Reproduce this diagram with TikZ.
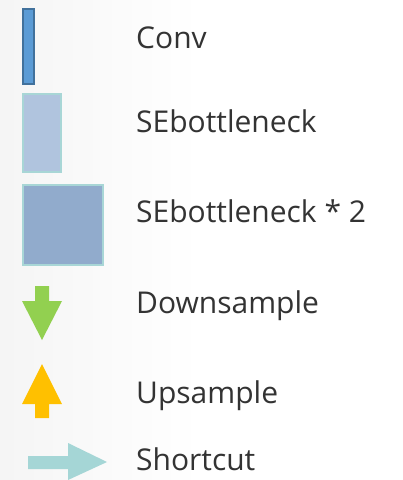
\documentclass[tikz,border=0pt]{standalone}
\usepackage{fontspec}
\setmainfont{Open Sans}
\begin{document}
\begin{tikzpicture}[x=1pt,y=-1pt,
  lbl/.style={anchor=base west,inner sep=0pt,font=\fontsize{30}{35}\selectfont,text=black!80},
  convbox/.style={draw=convborder,line width=2pt,fill=convfill},
  sebox/.style={draw=seborder,line width=2pt,fill=sefill},
  se2box/.style={draw=seborder,line width=2pt,fill=se2fill}]
\definecolor{convfill}{RGB}{91,155,213}
\definecolor{convborder}{RGB}{65,113,156}
\definecolor{seborder}{RGB}{168,214,214}
\definecolor{sefill}{RGB}{176,196,222}
\definecolor{se2fill}{RGB}{145,171,204}
\definecolor{downc}{RGB}{146,208,80}
\definecolor{upc}{RGB}{255,192,0}
\definecolor{shortc}{RGB}{165,214,214}
\useasboundingbox (0,0) rectangle (403,480);
\shade[left color=black!4,right color=white] (0,0) rectangle (200,480);
\fill[white] (200,0) rectangle (403,480);
% shapes
\draw[convbox] (23,9) rectangle (34,84);
\draw[sebox] (23,94) rectangle (61,172);
\draw[se2box] (23,185) rectangle (103,265);
\fill[downc] (35,286) -- (49,286) -- (49,301) -- (62,301) -- (42,340) -- (22,301) -- (35,301) -- cycle;
\fill[upc] (42,364) -- (62,404) -- (49,404) -- (49,418) -- (35,418) -- (35,404) -- (22,404) -- cycle;
\fill[shortc] (28,456) -- (68,456) -- (68,443) -- (107,462) -- (68,480) -- (68,469) -- (28,469) -- cycle;
% labels
\node[lbl] (conv) at (136,48) {Conv};
\node[lbl] (se) at (136,132) {SEbottleneck};
\node[lbl] (se2) at (136,222) {SEbottleneck * 2};
\node[lbl] (down) at (136,313) {Downsample};
\node[lbl] (up) at (136,403) {Upsample};
\node[lbl] (short) at (136,470) {Shortcut};
\end{tikzpicture}
\end{document}
